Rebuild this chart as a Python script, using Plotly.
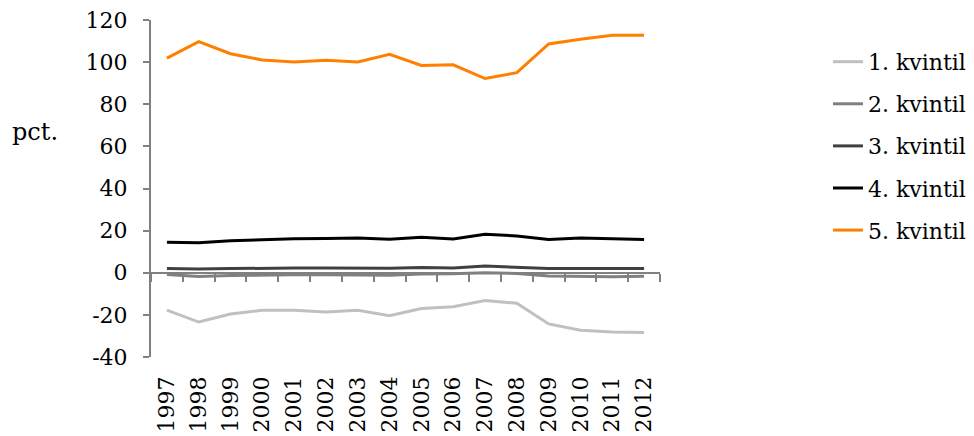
import plotly.graph_objects as go

years = [str(y) for y in range(1997, 2013)]
k1 = [-17.7, -23.4, -19.6, -17.8, -17.8, -18.6, -17.8, -20.4, -17.0, -16.1, -13.2, -14.5, -24.3, -27.3, -28.1, -28.4]
k2 = [-0.8, -1.8, -1.3, -1.0, -1.0, -1.0, -1.0, -1.2, -0.6, -0.5, 0.0, -0.3, -1.5, -1.7, -1.9, -1.7]
k3 = [2.0, 1.8, 2.0, 2.2, 2.2, 2.2, 2.2, 2.1, 2.5, 2.3, 3.2, 2.7, 2.0, 2.0, 1.9, 2.0]
k4 = [14.5, 14.3, 15.2, 15.8, 16.2, 16.3, 16.5, 15.9, 16.8, 16.0, 18.3, 17.5, 15.8, 16.5, 16.0, 15.8]
k5 = [101.9, 109.7, 104.0, 101.0, 100.1, 100.9, 100.1, 103.7, 98.4, 98.7, 92.2, 95.0, 108.6, 110.9, 112.8, 112.8]

names = ["1. kvintil", "2. kvintil", "3. kvintil", "4. kvintil", "5. kvintil"]
series = [k1, k2, k3, k4, k5]
colors = ["#c0c0c0", "#808080", "#404040", "#000000", "#ff8000"]

y_tickvals = [-40, -20, 0, 20, 40, 60, 80, 100, 120]
y_ticktext = ["-40", "-20", "0", "20", "40", "60", "80", "100", "120"]

FONT = "DejaVu Serif"
fig = go.Figure()
for i, (n, s, c) in enumerate(zip(names, series, colors)):
    fig.add_trace(go.Scatter(x=years, y=s, name=n, mode="lines",
                             line=dict(color=c, width=3), legendgroup=n))

# invisible trace to carry the axis drawn through zero
fig.add_trace(go.Scatter(x=years, y=[None] * len(years), xaxis="x2", showlegend=False,
                         hoverinfo="skip", mode="lines"))

yr = [-40, 120]
fig.update_layout(
    width=966, height=428,
    margin=dict(l=143, r=314, t=12, b=79, autoexpand=False),
    paper_bgcolor="white", plot_bgcolor="white",
    font=dict(family=FONT, size=22, color="black"),
    showlegend=True,
    legend=dict(x=1.33, y=0.938, xanchor="left", yanchor="top",
                font=dict(family=FONT, size=22), tracegroupgap=10.5,
                bgcolor="rgba(0,0,0,0)"),
    xaxis=dict(type="category", categoryarray=years, range=[-0.5, 15.5],
               showline=False, ticks="", showgrid=False, zeroline=False,
               tickangle=-90, tickfont=dict(family=FONT, size=22),
               ticklabelstandoff=14, automargin=False, ticklabeloverflow="allow"),
    xaxis2=dict(type="category", categoryarray=years, range=[-0.5, 15.5],
                overlaying="x", anchor="free", position=(0 - yr[0]) / (yr[1] - yr[0]),
                showline=True, linecolor="#808080", linewidth=2,
                ticks="outside", tickson="boundaries", ticklen=8, tickwidth=2,
                tickcolor="#808080", showticklabels=False, showgrid=False,
                zeroline=False),
    yaxis=dict(range=yr, tickvals=y_tickvals, ticktext=y_ticktext, showgrid=False,
               zeroline=False, showline=True, linecolor="#808080", linewidth=2,
               ticks="outside", ticklen=6, tickwidth=2, tickcolor="#808080",
               tickfont=dict(family=FONT, size=22), ticklabelstandoff=11,
               automargin=False, ticklabeloverflow="allow"),
    annotations=[dict(text="pct.", xref="paper", yref="paper", x=(27 - 143) / 509, y=0.667,
                      xanchor="center", yanchor="middle", showarrow=False,
                      font=dict(family=FONT, size=24))],
)
fig.write_html("out.html")
